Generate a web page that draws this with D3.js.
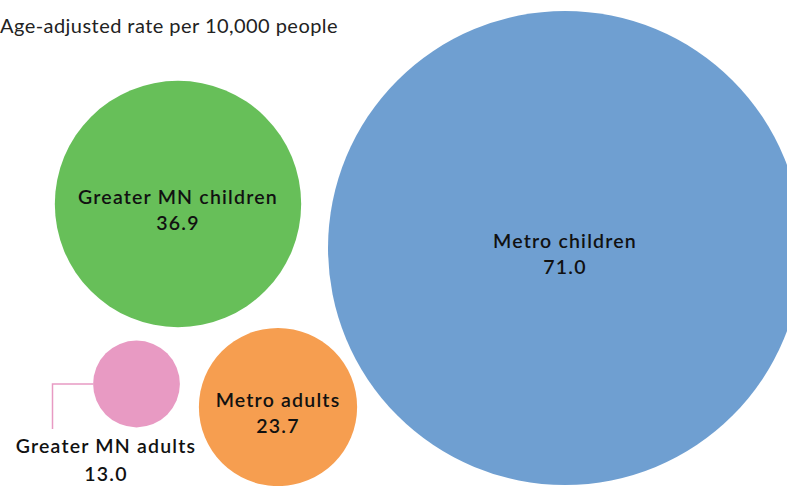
<!DOCTYPE html>
<html>
<head>
<meta charset="utf-8">
<script src="https://cdn.jsdelivr.net/npm/d3@7"></script>
<style>
  html, body { margin: 0; padding: 0; background: #fff; }
  svg { display: block; font-family: Lato, "Noto Sans", sans-serif; }
</style>
</head>
<body>
<svg id="chart" width="787" height="486"></svg>
<script>
// Age-adjusted rate per 10,000 people, by group
const categories = ["Metro children", "Greater MN children", "Metro adults", "Greater MN adults"];
const values = [71.0, 36.9, 23.7, 13.0];
const colors = ["#6f9fd1", "#67bf59", "#f69e50", "#e89ac3"];

// Hand-arranged bubble centres (layout, px)
const layout = {
  "Metro children":      { x: 565, y: 248 },
  "Greater MN children": { x: 178, y: 204 },
  "Metro adults":        { x: 278, y: 407 },
  "Greater MN adults":   { x: 136.5, y: 384 }
};

const svg = d3.select("#chart");

// Radius grows linearly with the rate
const r = d3.scaleLinear().domain([0, d3.max(values)]).range([0, 237]);

const data = categories.map((c, i) => ({
  name: c, value: values[i], color: colors[i], ...layout[c]
}));

const labelSize = 19.5;
const labelWeight = 600;
const labelSpacing = 1.2;

function styleLabel(sel) {
  return sel.attr("font-size", labelSize)
    .attr("font-weight", labelWeight)
    .attr("letter-spacing", labelSpacing)
    .attr("fill", "#111");
}

svg.append("text")
  .attr("x", 0).attr("y", 33)
  .attr("font-size", 20).attr("letter-spacing", 0.45).attr("fill", "#222")
  .text("Age-adjusted rate per 10,000 people");

const g = svg.append("g");

g.selectAll("circle")
  .data(data)
  .join("circle")
  .attr("cx", d => d.x)
  .attr("cy", d => d.y)
  .attr("r", d => r(d.value))
  .attr("fill", d => d.color);

// Labels inside the bubbles that are large enough
const inside = data.filter(d => d.name !== "Greater MN adults");
const lbl = g.selectAll("g.lbl")
  .data(inside)
  .join("g")
  .attr("class", "lbl")
  .attr("transform", d => `translate(${d.x},${d.y})`);

lbl.append("text")
  .attr("text-anchor", "middle")
  .attr("y", 0)
  .call(styleLabel)
  .text(d => d.name);
lbl.append("text")
  .attr("text-anchor", "middle")
  .attr("y", 26)
  .call(styleLabel)
  .text(d => d3.format(".1f")(d.value));

// Small bubble: leader line to an outside label
const small = data.find(d => d.name === "Greater MN adults");
const sr = r(small.value);
const lineX = 52.5;
g.append("path")
  .attr("d", `M${small.x - sr},${small.y}H${lineX}V${small.y + 45}`)
  .attr("fill", "none")
  .attr("stroke", small.color)
  .attr("stroke-width", 1.5);

const outLbl = g.append("g").attr("transform", `translate(106,${small.y + 69})`);
outLbl.append("text")
  .attr("text-anchor", "middle")
  .call(styleLabel)
  .text(small.name);
outLbl.append("text")
  .attr("text-anchor", "middle")
  .attr("y", 28)
  .call(styleLabel)
  .text(d3.format(".1f")(small.value));
</script>
</body>
</html>
